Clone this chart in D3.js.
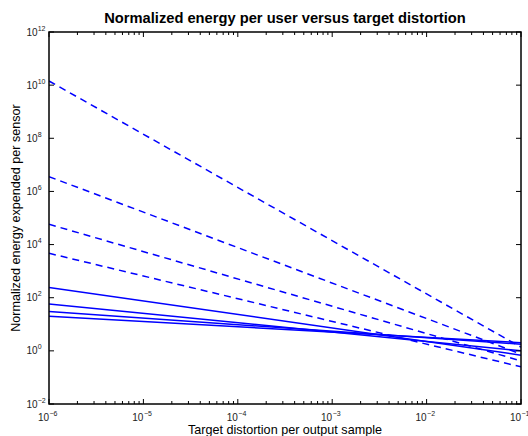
<!DOCTYPE html>
<html>
<head>
<meta charset="utf-8">
<script src="https://cdn.jsdelivr.net/npm/d3@7"></script>
<style>
  body { margin: 0; background: #fff; }
  svg { font-family: "Liberation Sans", Arial, Helvetica, sans-serif; }
</style>
</head>
<body>
<svg id="chart" width="528" height="436"></svg>
<script>
// Normalized energy per user versus target distortion (log-log)

// ----------------------------------------------------------------------------
// Data (each curve is straight on log-log axes)
// ----------------------------------------------------------------------------

var distortion = [1e-6, 1e-1];

// dashed curves
var dashed1 = [1.43e10, 1.38];
var dashed2 = [3.6e6, 0.76];
var dashed3 = [5.8e4, 0.42];
var dashed4 = [4.7e3, 0.25];

// solid curves
var solid1 = [245, 0.69];
var solid2 = [58, 1.0];
var solid3 = [30, 1.78];
var solid4 = [20, 2.04];

var xTickExp = [-6, -5, -4, -3, -2, -1];
var yTickExp = [-2, 0, 2, 4, 6, 8, 10, 12];

var titleText = "Normalized energy per user versus target distortion";
var xLabelText = "Target distortion per output sample";
var yLabelText = "Normalized energy expended per sensor";

// ----------------------------------------------------------------------------
// Layout
// ----------------------------------------------------------------------------

var margin = {top: 32, right: 7, bottom: 32, left: 49};
var width = 528 - margin.left - margin.right;
var height = 436 - margin.top - margin.bottom;

var svg = d3.select("#chart");
var g = svg.append("g")
    .attr("transform", "translate(" + margin.left + "," + margin.top + ")");

var x = d3.scaleLog().domain([1e-6, 1e-1]).range([0, width]);
var y = d3.scaleLog().domain([1e-2, 1e12]).range([height, 0]);

// minor ticks on the x axis (2..9 x 10^k)
var xMinor = [];
xTickExp.slice(0, -1).forEach(function(e) {
    for (var m = 2; m <= 9; m++) xMinor.push(m * Math.pow(10, e));
});

// ----------------------------------------------------------------------------
// Lines
// ----------------------------------------------------------------------------

var line = d3.line()
    .x(function(d) { return x(d[0]); })
    .y(function(d) { return y(d[1]); });

function toPoints(vals) {
    return vals.map(function(v, i) { return [distortion[i], v]; });
}

var curves = [
    {vals: dashed1, dash: true},
    {vals: dashed2, dash: true},
    {vals: dashed3, dash: true},
    {vals: dashed4, dash: true},
    {vals: solid1, dash: false},
    {vals: solid2, dash: false},
    {vals: solid3, dash: false},
    {vals: solid4, dash: false}
];

g.append("defs").append("clipPath").attr("id", "clip")
    .append("rect").attr("width", width).attr("height", height);

g.append("g").attr("clip-path", "url(#clip)")
    .selectAll("path")
    .data(curves)
    .enter().append("path")
    .attr("d", function(c) { return line(toPoints(c.vals)); })
    .attr("fill", "none")
    .attr("stroke", "#0000ff")
    .attr("stroke-width", 1.5)
    .attr("stroke-dasharray", function(c) { return c.dash ? "7,5" : null; });

// ----------------------------------------------------------------------------
// Axes box and ticks (all ticks point inward)
// ----------------------------------------------------------------------------

var tickG = g.append("g").attr("stroke", "#000").attr("stroke-width", 1);

xTickExp.forEach(function(e) {
    var px = x(Math.pow(10, e));
    tickG.append("line").attr("x1", px).attr("x2", px).attr("y1", height).attr("y2", height - 5);
    tickG.append("line").attr("x1", px).attr("x2", px).attr("y1", 0).attr("y2", 5);
});
xMinor.forEach(function(v) {
    var px = x(v);
    tickG.append("line").attr("x1", px).attr("x2", px).attr("y1", height).attr("y2", height - 3);
    tickG.append("line").attr("x1", px).attr("x2", px).attr("y1", 0).attr("y2", 3);
});
yTickExp.forEach(function(e) {
    var py = y(Math.pow(10, e));
    tickG.append("line").attr("x1", 0).attr("x2", 5).attr("y1", py).attr("y2", py);
    tickG.append("line").attr("x1", width).attr("x2", width - 5).attr("y1", py).attr("y2", py);
});

g.append("rect")
    .attr("width", width)
    .attr("height", height)
    .attr("fill", "none")
    .attr("stroke", "#000")
    .attr("stroke-width", 1.5);

// ----------------------------------------------------------------------------
// Tick labels (10 with superscript exponent)
// ----------------------------------------------------------------------------

xTickExp.forEach(function(e) {
    var px = margin.left + x(Math.pow(10, e));
    svg.append("text")
        .attr("x", px).attr("y", 421)
        .attr("text-anchor", "end")
        .attr("font-size", 10).attr("fill", "#222")
        .text("10");
    svg.append("text")
        .attr("x", px + 0.5).attr("y", 415.5)
        .attr("font-size", 7).attr("fill", "#222")
        .text("\u2212" + Math.abs(e));
});

yTickExp.forEach(function(e) {
    var py = margin.top + y(Math.pow(10, e));
    var t = svg.append("text")
        .attr("x", 26.5).attr("y", py + 3.5)
        .attr("font-size", 10).attr("fill", "#222");
    t.append("tspan").text("10");
    t.append("tspan")
        .attr("font-size", 7).attr("dy", -5)
        .text(e < 0 ? "\u2212" + Math.abs(e) : String(e));
});

// ----------------------------------------------------------------------------
// Title and axis labels
// ----------------------------------------------------------------------------

svg.append("text")
    .attr("x", margin.left + width / 2).attr("y", 23)
    .attr("text-anchor", "middle")
    .attr("font-size", 14.7).attr("font-weight", "bold")
    .text(titleText);

svg.append("text")
    .attr("x", margin.left + width / 2).attr("y", 434)
    .attr("text-anchor", "middle")
    .attr("font-size", 12.6)
    .text(xLabelText);

svg.append("text")
    .attr("transform", "translate(20," + (margin.top + height / 2) + ") rotate(-90)")
    .attr("text-anchor", "middle")
    .attr("font-size", 12.6)
    .text(yLabelText);
</script>
</body>
</html>
